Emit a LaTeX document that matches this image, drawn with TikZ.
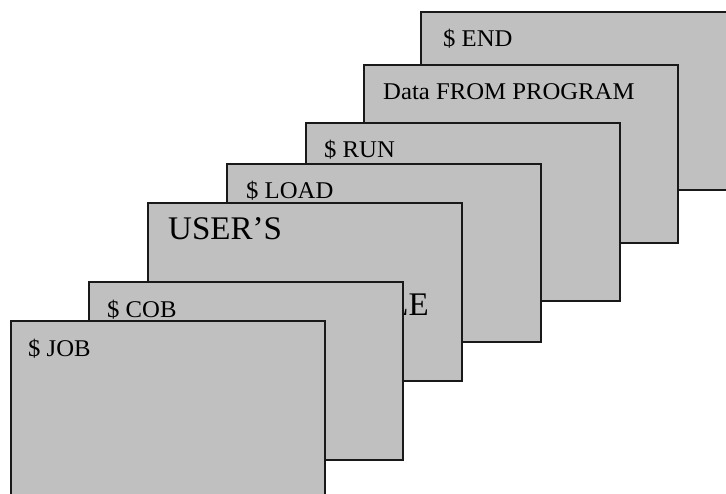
\documentclass[tikz,border=0pt]{standalone}
\usepackage{fontspec}
\setmainfont{Liberation Serif}
\newfontfamily\cardfont[FakeStretch=1.03]{Liberation Serif}
\definecolor{cardgray}{RGB}{192,192,192}
\tikzset{
  card/.style={draw=black!90,line width=1.6pt,fill=cardgray,anchor=north west,
    minimum width=314pt,minimum height=178pt,inner sep=0pt},
  cardtext/.style={anchor=base west,inner sep=0pt,font=\cardfont\fontsize{24}{24}\selectfont},
  bigtext/.style={inner sep=0pt,font=\fontsize{33}{33}\selectfont}
}
\begin{document}
\begin{tikzpicture}[x=1pt,y=-1pt]
\useasboundingbox (0,0) rectangle (726,494);
\clip (0,0) rectangle (726,494);

% deck, from the last card to the first
\node[card] (endcard) at (420,11) {};
\node[cardtext] (endtext) at (443,47) {\$ END};

\node[card] (datacard) at (363,64) {};
\node[cardtext] (datatext) at (383,100) {Data FROM PROGRAM};

\node[card] (runcard) at (305,122) {};
\node[cardtext] (runtext) at (324,158) {\$ RUN};

\node[card] (loadcard) at (226,163) {};
\node[cardtext] (loadtext) at (246,199) {\$ LOAD};

\node[card] (usercard) at (147,202) {};
\node[bigtext,anchor=base west] (usertext) at (168,240) {USER'S};
\node[bigtext,anchor=base east] (filetext) at (429,316) {FILE};

\node[card] (cobcard) at (88,281) {};
\node[cardtext] (cobtext) at (107,318) {\$ COB};

\node[card] (jobcard) at (10,320) {};
\node[cardtext] (jobtext) at (28,357) {\$ JOB};
\end{tikzpicture}
\end{document}
